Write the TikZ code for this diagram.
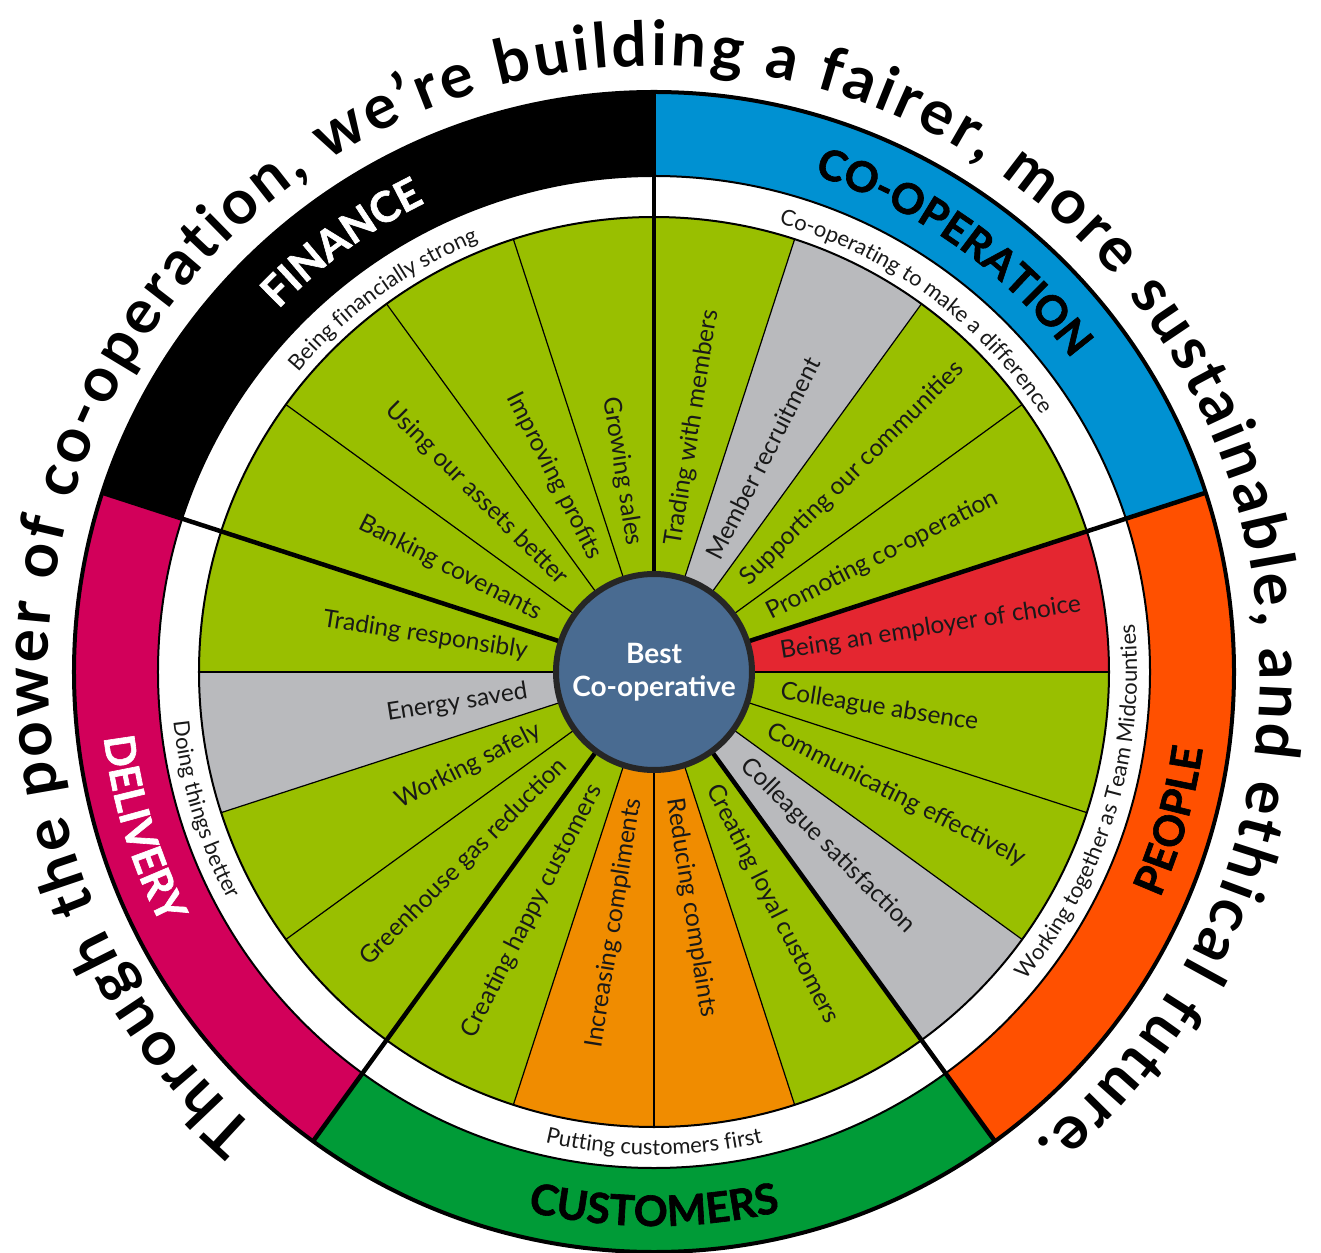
\documentclass[tikz,border=0pt]{standalone}
\usepackage{fontspec}
\setmainfont{Lato}
\newfontfamily\latofont{Lato}
\newfontfamily\heavyfont{Lato}[FakeBold=1.5]
\usetikzlibrary{decorations.text}

% segment colours
\definecolor{wgreen}{RGB}{153,191,0}
\definecolor{wgray}{RGB}{185,186,189}
\definecolor{wred}{RGB}{228,38,48}
\definecolor{worange}{RGB}{240,140,0}
\definecolor{corefill}{RGB}{73,107,145}
\definecolor{itemtext}{RGB}{25,25,25}
% outer ring colours
\definecolor{finblack}{RGB}{0,0,0}
\definecolor{coopblue}{RGB}{0,145,210}
\definecolor{peopleorange}{RGB}{255,80,0}
\definecolor{custgreen}{RGB}{0,155,55}
\definecolor{delmag}{RGB}{210,0,90}

\newcommand\wheelTitleFont{\latofont\bfseries\fontsize{62}{70}\selectfont}
\newcommand\wheelRingFont{\heavyfont\bfseries\fontsize{42}{48}\selectfont}
\newcommand\wheelSubFont{\latofont\fontsize{22}{25}\selectfont}
\newcommand\wheelItemFont{\latofont\fontsize{24.5}{28}\selectfont}

\tikzset{
  itemR/.style={anchor=west, inner sep=0pt, font=\wheelItemFont, text=itemtext},
  itemL/.style={anchor=east, inner sep=0pt, font=\wheelItemFont, text=itemtext},
  thinrule/.style={line width=1.2pt},
  thickrule/.style={line width=4.5pt},
  ringline/.style={line width=2pt},
}

\begin{document}
\begin{tikzpicture}[x=1pt,y=1pt]
\useasboundingbox (-654,-580) rectangle (667,672);

% coloured outer ring, one band per theme
\foreach \s/\c in {18/coopblue, 90/finblack, 162/delmag, 234/custgreen, 306/peopleorange}{
  \fill[\c] (\s:496) arc[start angle=\s, delta angle=72, radius=496]
    -- ({\s+72}:580) arc[start angle={\s+72}, delta angle=-72, radius=580] -- cycle;
}

% twenty measure segments
\foreach \i/\c in {0/wred,1/wgreen,2/wgreen,3/wgray,4/wgreen,5/wgreen,6/wgreen,7/wgreen,
                   8/wgreen,9/wgreen,10/wgray,11/wgreen,12/wgreen,13/wgreen,14/worange,
                   15/worange,16/wgreen,17/wgray,18/wgreen,19/wgreen}{
  \fill[\c] (0,0) -- ({18*\i}:455) arc[start angle={18*\i}, delta angle=18, radius=455] -- cycle;
}

% circular outlines
\draw[ringline] (0,0) circle[radius=455];
\draw[ringline] (0,0) circle[radius=496];
\draw[line width=4pt] (0,0) circle[radius=580];

% dividers
\foreach \a in {0,36,54,72,108,126,144,180,198,216,252,270,288,324,342}
  \draw[thinrule] (0,0) -- (\a:455);
\foreach \a in {18,90,162,234,306}
  \draw[thickrule] (0,0) -- (\a:580);

% hub
\node[circle, draw=black!85, line width=6pt, fill=corefill, minimum size=196pt, inner sep=0pt,
      text=white, align=center, font=\latofont\bfseries\fontsize{28}{33}\selectfont] (core) at (0,0)
      {Best\\Co-operative};

% segment labels, right half read outwards
\foreach \a/\t [count=\i] in {9/Being an employer of choice, 27/Promoting co-operation,
    45/Supporting our communities, 63/Member recruitment, 81/Trading with members,
    -9/Colleague absence, -27/Communicating effectively, -45/Colleague satisfaction,
    -63/Creating loyal customers, -81/Reducing complaints}
  \node[itemR, rotate=\a] (ritem\i) at (\a:128) {\t};

% segment labels, left half read inwards
\foreach \a/\t [count=\i] in {99/Growing sales, 117/Improving profits, 135/Using our assets better,
    153/Banking covenants, 171/Trading responsibly, 189/Energy saved, 207/Working safely,
    225/Greenhouse gas reduction, 243/Creating happy customers, 261/Increasing compliments}
  \node[itemL, rotate={\a-180}] (litem\i) at (\a:128) {\t};

% theme names in the coloured ring
\path[decorate, decoration={text along path, text align=center, text color=white,
  text={|\wheelRingFont|FINANCE}}] (166:522) arc[start angle=166, end angle=86, radius=522];
\path[decorate, decoration={text along path, text align=center, text color=black,
  text={|\wheelRingFont|CO-OPERATION}}] (99.5:522) arc[start angle=99.5, end angle=9.5, radius=522];
\path[decorate, decoration={text along path, text align=center, text color=black,
  text={|\wheelRingFont|PEOPLE}}] (-56:554) arc[start angle=-56, end angle=24, radius=554];
\path[decorate, decoration={text along path, text align=center, text color=black,
  text={|\wheelRingFont|CUSTOMERS}}] (-130:554) arc[start angle=-130, end angle=-50, radius=554];
\path[decorate, decoration={text along path, text align=center, text color=white,
  text={|\wheelRingFont|DELIVERY}}] (157:554) arc[start angle=157, end angle=237, radius=554];

% theme subtitles in the white ring
\path[decorate, decoration={text along path, text align=center, text color=itemtext,
  text={|\wheelSubFont|Being financially strong}}] (166:465) arc[start angle=166, end angle=86, radius=465];
\path[decorate, decoration={text along path, text align=center, text color=itemtext,
  text={|\wheelSubFont|Co-operating to make a difference}}] (99:465) arc[start angle=99, end angle=9, radius=465];
\path[decorate, decoration={text along path, text align=center, text color=itemtext,
  text={|\wheelSubFont|Working together as Team Midcounties}}] (-67:483) arc[start angle=-67, end angle=33, radius=483];
\path[decorate, decoration={text along path, text align=center, text color=itemtext,
  text={|\wheelSubFont|Putting customers first}}] (-130:483) arc[start angle=-130, end angle=-50, radius=483];
\path[decorate, decoration={text along path, text align=center, text color=itemtext,
  text={|\wheelSubFont|Doing things better}}] (157:483) arc[start angle=157, end angle=237, radius=483];

% strapline around the wheel
\path[decorate, decoration={text along path, text align=fit to path, text color=black,
  text={|\wheelTitleFont|Through the power of co-operation, we’re building a fairer, more sustainable, and ethical future.}}]
  (229:606) arc[start angle=229, end angle=-51, radius=606];
\end{tikzpicture}
\end{document}
